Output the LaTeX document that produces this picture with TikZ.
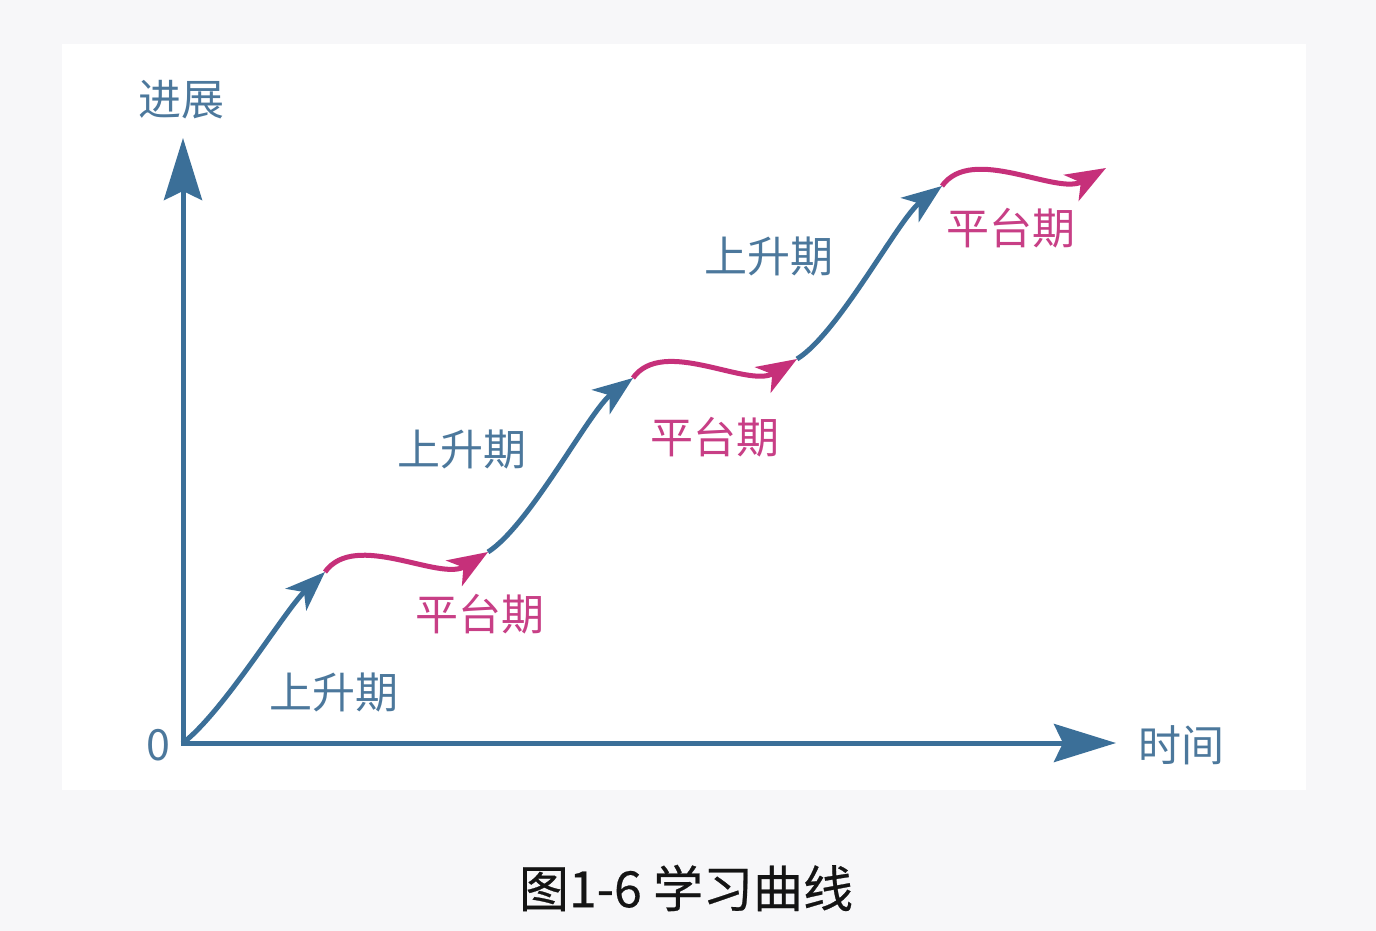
\documentclass[tikz,border=0pt]{standalone}
\usepackage{fontspec}
\newfontfamily\cjk{Noto Sans CJK SC}
\newfontfamily\capfont[FakeBold=0.5]{Noto Sans CJK SC}
\usetikzlibrary{arrows.meta}
\definecolor{outerbg}{HTML}{F7F7F9}
\definecolor{curveblue}{HTML}{3B6F98}
\definecolor{curvepink}{HTML}{C6307A}
\definecolor{textblue}{HTML}{4C789C}
\definecolor{textpink}{HTML}{C83F86}
\tikzset{
  axisline/.style={curveblue, line width=5pt, -{Stealth[length=62pt,width=38pt,inset=9pt]}},
  riseseg/.style={curveblue, line width=5pt, -{Stealth[length=40pt,width=30pt,inset=11pt]}},
  plateauseg/.style={curvepink, line width=5pt, -{Stealth[length=40pt,width=30pt,inset=11pt]}},
  bluelabel/.style={text=textblue, inner sep=0pt, font=\cjk\fontsize{43}{47}\selectfont},
  pinklabel/.style={text=textpink, inner sep=0pt, font=\cjk\fontsize{43}{47}\selectfont},
}
\begin{document}
\begin{tikzpicture}[x={(1pt,0)}, y={(0,-1pt)}]
\useasboundingbox (0,0) rectangle (1376,931);
\fill[outerbg] (0,0) rectangle (1376,931);
\fill[white] (62,44) rectangle (1306,790);

% coordinates
\coordinate (O) at (183,743);
\coordinate (ytop) at (183,138);
\coordinate (xend) at (1116,743);
\coordinate (a1) at (325,572);
\coordinate (b1) at (488,552);
\coordinate (a2) at (633,378);
\coordinate (b2) at (797,359);
\coordinate (a3) at (942,186);
\coordinate (b3) at (1106,168);

% axes
\draw[axisline] (O) -- (ytop);
\draw[axisline] ([xshift=-2.5pt]O) -- (xend);

% curve
\draw[riseseg] (O) .. controls (225,710) and (285,610) .. (a1);
\draw[plateauseg] (a1) .. controls (355,530) and (440,582) .. (b1);
\draw[riseseg] (b1) .. controls (530,525) and (590,410) .. (a2);
\draw[plateauseg] (a2) .. controls (663,336) and (748,389) .. (b2);
\draw[riseseg] (b2) .. controls (839,333) and (899,218) .. (a3);
\draw[plateauseg] (a3) .. controls (972,144) and (1057,196) .. (b3);

% labels
\node[bluelabel] (ylab) at (181,100) {进展};
\node[bluelabel] (zero) at (158,745) {0};
\node[bluelabel] (xlab) at (1181,745) {时间};
\node[bluelabel] (r1) at (334,692) {上升期};
\node[pinklabel] (p1) at (480,614) {平台期};
\node[bluelabel] (r2) at (462,450) {上升期};
\node[pinklabel] (p2) at (715,437) {平台期};
\node[bluelabel] (r3) at (769,257) {上升期};
\node[pinklabel] (p3) at (1011,228) {平台期};

\node[inner sep=0pt, text=black!92, font=\capfont\fontsize{50}{54}\selectfont] (cap) at (686,888) {图1-6 学习曲线};
\end{tikzpicture}
\end{document}
